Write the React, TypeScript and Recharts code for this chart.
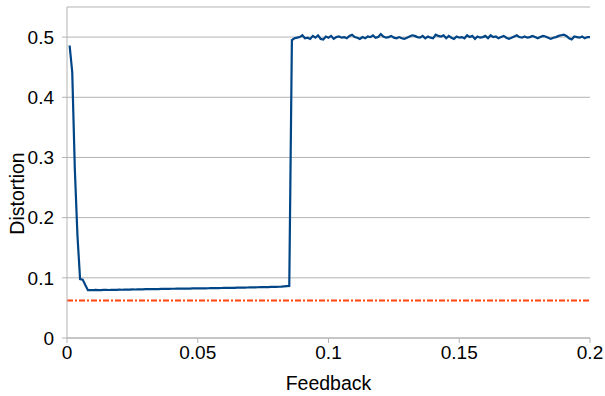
import {
  CartesianGrid,
  Line,
  LineChart,
  ReferenceLine,
  XAxis,
  YAxis,
} from "recharts";

// distortion measured at feedback = 0.001, 0.002, ... 0.200
const DISTORTION = [
  0.486, 0.442, 0.28, 0.17, 0.098, 0.097, 0.088, 0.0795, 0.0795, 0.0796,
  0.08, 0.0797, 0.0796, 0.0799, 0.0801, 0.0798, 0.08, 0.0802, 0.0801, 0.0803,
  0.0802, 0.0804, 0.0806, 0.0805, 0.0807, 0.0806, 0.0808, 0.081, 0.0809, 0.0811,
  0.0812, 0.0811, 0.0813, 0.0814, 0.0813, 0.0815, 0.0816, 0.0815, 0.0817, 0.0818,
  0.0818, 0.0819, 0.082, 0.0819, 0.0821, 0.0822, 0.0821, 0.0823, 0.0824, 0.0823,
  0.0825, 0.0826, 0.0825, 0.0827, 0.0828, 0.0829, 0.0828, 0.083, 0.0831, 0.0832,
  0.0832, 0.0834, 0.0835, 0.0834, 0.0836, 0.0837, 0.0838, 0.0837, 0.0839, 0.084,
  0.0841, 0.0842, 0.0843, 0.0844, 0.0845, 0.0845, 0.0847, 0.0848, 0.0849, 0.085,
  0.0852, 0.0853, 0.0858, 0.0862, 0.0866,
  0.495, 0.498, 0.499, 0.5, 0.503, 0.498, 0.499, 0.497, 0.502, 0.499,
  0.503, 0.497, 0.496, 0.501, 0.499, 0.502, 0.497, 0.5, 0.501, 0.499,
  0.5, 0.498, 0.502, 0.504, 0.5, 0.499, 0.497, 0.5, 0.498, 0.501,
  0.5, 0.503, 0.499, 0.5, 0.505, 0.501, 0.499, 0.5, 0.502, 0.499,
  0.498, 0.5, 0.498, 0.497, 0.499, 0.501, 0.503, 0.502, 0.5, 0.499,
  0.502, 0.498, 0.501, 0.499, 0.498, 0.504, 0.502, 0.501, 0.503, 0.498,
  0.502, 0.499, 0.497, 0.501, 0.499, 0.5, 0.498, 0.503, 0.5, 0.502,
  0.497, 0.501, 0.499, 0.5, 0.502, 0.498, 0.503, 0.5, 0.501, 0.498,
  0.5, 0.502, 0.499, 0.497, 0.499, 0.501, 0.503, 0.5, 0.499, 0.501,
  0.499, 0.5, 0.502, 0.5, 0.498, 0.5, 0.502, 0.501, 0.499, 0.497,
  0.499, 0.5, 0.502, 0.503, 0.504, 0.502, 0.498, 0.496, 0.501, 0.5,
  0.499, 0.501, 0.498, 0.5, 0.5,
];
const FEEDBACK_STEP = 0.001;
const LOWER_BOUND = 0.0625;

const X_TICKS = [0, 0.05, 0.1, 0.15, 0.2];
const Y_TICKS = [0, 0.1, 0.2, 0.3, 0.4, 0.5];

const data = DISTORTION.map((distortion, i) => ({
  feedback: (i + 1) * FEEDBACK_STEP,
  distortion,
}));

const GRID = "#b3b3b3";
const tickStyle = { fill: "#000", fontSize: 19 };

function XTitle({ viewBox }: any) {
  return (
    <text
      x={viewBox.x + viewBox.width / 2}
      y={viewBox.y + viewBox.height - 6}
      textAnchor="middle"
      fontSize={19.5}
      fill="#000"
    >
      Feedback
    </text>
  );
}

function YTitle({ viewBox }: any) {
  const cx = 17;
  const cy = viewBox.y + viewBox.height / 2 + 21;
  return (
    <text
      x={cx}
      y={cy}
      transform={`rotate(-90, ${cx}, ${cy})`}
      textAnchor="middle"
      dominantBaseline="central"
      fontSize={19.5}
      fill="#000"
    >
      Distortion
    </text>
  );
}

export default function App() {
  return (
    <div style={{ position: "absolute", left: 0, top: 0 }}>
      <LineChart
        width={605}
        height={396}
        data={data}
        margin={{ top: 7, right: 15, bottom: 0, left: 0 }}
        style={{ fontFamily: '"Liberation Sans", Arial, sans-serif' }}
      >
        <CartesianGrid vertical={false} stroke={GRID} />
        <XAxis
          dataKey="feedback"
          type="number"
          domain={[0, 0.2]}
          ticks={X_TICKS}
          allowDataOverflow
          height={58}
          tickSize={5}
          tickMargin={3}
          stroke={GRID}
          tick={tickStyle}
          label={<XTitle />}
        />
        <XAxis
          xAxisId="top"
          orientation="top"
          type="number"
          domain={[0, 0.2]}
          height={0}
          tick={false}
          tickLine={false}
          stroke={GRID}
        />
        <YAxis
          type="number"
          domain={[0, 0.55]}
          ticks={Y_TICKS}
          allowDataOverflow
          width={67}
          tickSize={5}
          tickMargin={8}
          stroke={GRID}
          tick={tickStyle}
          label={<YTitle />}
        />
        <YAxis
          yAxisId="right"
          orientation="right"
          type="number"
          domain={[0, 0.55]}
          width={0}
          tick={false}
          tickLine={false}
          stroke={GRID}
        />
        <ReferenceLine
          y={LOWER_BOUND}
          stroke="#ff420e"
          strokeWidth={2}
          strokeDasharray="6 2 2 2"
        />
        <Line
          type="linear"
          dataKey="distortion"
          stroke="#004586"
          strokeWidth={2.2}
          dot={false}
          isAnimationActive={false}
        />
      </LineChart>
    </div>
  );
}
